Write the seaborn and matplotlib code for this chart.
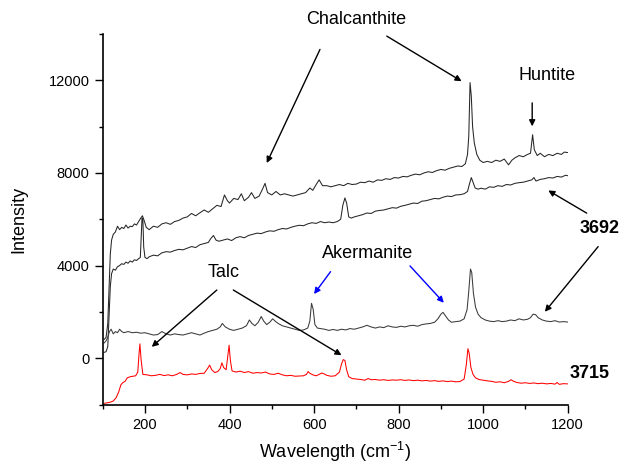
import numpy as np
import pandas as pd
import seaborn as sns
import matplotlib.pyplot as plt
from matplotlib.ticker import MultipleLocator

sns.set_style('ticks')
plt.rcParams['font.family'] = ['Liberation Sans', 'DejaVu Sans']
plt.rcParams['mathtext.default'] = 'regular'
plt.rcParams['text.color'] = 'black'
plt.rcParams['axes.labelcolor'] = 'black'

# sample 3692, upper spectrum
top_x = [103, 108, 112, 115, 118, 121, 125, 130, 135, 140, 145, 150, 155, 160, 165, 170, 175, 180, 185, 190,
         194, 198, 203, 210, 220, 230, 240, 250, 260, 270, 280, 290, 300, 310, 320, 330, 340, 350, 360, 370,
         380, 388, 395, 400, 410, 420, 428, 435, 445, 452, 460, 470, 478, 484, 490, 500, 510, 520, 530, 540,
         550, 560, 570, 580, 590, 597, 605, 612, 620, 630, 640, 650, 660, 670, 680, 690, 700, 710, 720, 730,
         740, 750, 760, 770, 780, 790, 800, 810, 820, 830, 840, 850, 860, 870, 880, 890, 900, 910, 920, 930,
         940, 950, 958, 963, 966, 969, 972, 975, 979, 985, 992, 1000, 1010, 1020, 1030, 1040, 1050, 1060, 1068, 1075,
         1085, 1095, 1105, 1112, 1117, 1121, 1128, 1135, 1145, 1155, 1165, 1175, 1185, 1192, 1200]
top_y = [800, 900, 1500, 3000, 4500, 5100, 5350, 5450, 5700, 5550, 5650, 5600, 5750, 5620, 5700, 5680, 5800, 5750, 5900, 6050,
         6150, 5950, 5650, 5550, 5700, 5650, 5800, 5850, 5780, 5900, 5950, 6050, 6100, 6250, 6150, 6280, 6400, 6300, 6450, 6600,
         6550, 7050, 6800, 6700, 6900, 6850, 7100, 6800, 6950, 7150, 6900, 7000, 7300, 7550, 7150, 7050, 7200, 7050, 7100, 7050,
         7000, 7050, 7100, 7150, 7350, 7250, 7500, 7700, 7450, 7450, 7400, 7450, 7500, 7450, 7550, 7500, 7520, 7600, 7580, 7650,
         7600, 7700, 7680, 7750, 7720, 7800, 7780, 7850, 7830, 7900, 7950, 7920, 8000, 8050, 8020, 8100, 8150, 8120, 8200, 8250,
         8300, 8280, 8400, 8800, 9600, 11900, 11300, 10000, 9300, 8800, 8550, 8450, 8500, 8450, 8550, 8500, 8600, 8350, 8550, 8650,
         8750, 8700, 8800, 8850, 9650, 9000, 8750, 8850, 8700, 8800, 8750, 8850, 8800, 8900, 8880]

# sample 3692, middle spectrum
mid_x = [103, 108, 112, 115, 118, 121, 125, 130, 135, 140, 145, 150, 155, 160, 165, 170, 175, 180, 185, 189,
         191, 193, 195, 197, 200, 205, 210, 220, 230, 240, 250, 260, 270, 280, 290, 300, 310, 320, 330, 340,
         350, 355, 362, 368, 375, 385, 395, 405, 415, 425, 435, 445, 455, 465, 475, 485, 495, 505, 515, 525,
         535, 545, 555, 565, 575, 585, 595, 605, 615, 625, 635, 645, 655, 663, 668, 673, 677, 682, 688, 695,
         705, 715, 725, 735, 745, 755, 765, 775, 785, 795, 805, 815, 825, 835, 845, 855, 865, 875, 885, 895,
         905, 915, 925, 935, 945, 955, 963, 968, 972, 976, 981, 988, 995, 1005, 1015, 1025, 1035, 1045, 1055, 1065,
         1075, 1085, 1095, 1105, 1115, 1120, 1125, 1135, 1145, 1155, 1165, 1175, 1185, 1195, 1200]
mid_y = [250, 280, 500, 1800, 3100, 3650, 3850, 3800, 3950, 4000, 4080, 4050, 4150, 4100, 4200, 4150, 4250, 4220, 4300, 4350,
         5200, 6050, 6000, 4800, 4350, 4300, 4380, 4450, 4420, 4550, 4600, 4580, 4650, 4700, 4680, 4750, 4820, 4780, 4900, 4950,
         5000, 5150, 5300, 5100, 5050, 5100, 5150, 5080, 5200, 5250, 5200, 5300, 5350, 5400, 5380, 5450, 5500, 5480, 5550, 5600,
         5580, 5650, 5700, 5740, 5720, 5800, 5850, 5820, 5900, 5850, 5880, 5850, 5900, 6000, 6600, 6920, 6700, 6100, 6050, 6100,
         6150, 6200, 6270, 6250, 6350, 6380, 6400, 6450, 6500, 6480, 6560, 6600, 6650, 6700, 6680, 6780, 6800, 6850, 6900, 6880,
         6950, 7000, 6980, 7050, 7060, 7100, 7200, 7550, 7800, 7600, 7350, 7300, 7340, 7300, 7400, 7380, 7450, 7420, 7500, 7480,
         7550, 7580, 7600, 7650, 7700, 7800, 7650, 7720, 7750, 7800, 7780, 7850, 7820, 7900, 7880]

# sample 3692, lower spectrum
low_x = [103, 108, 112, 116, 120, 125, 130, 135, 140, 145, 150, 160, 170, 180, 190, 200, 210, 220, 230, 240,
         250, 260, 270, 280, 290, 300, 310, 320, 330, 340, 350, 360, 370, 378, 383, 390, 400, 410, 420, 430,
         440, 447, 453, 460, 468, 475, 481, 488, 495, 502, 508, 515, 525, 535, 545, 555, 565, 575, 585, 590,
         594, 598, 602, 608, 615, 625, 635, 645, 655, 665, 675, 685, 695, 705, 715, 725, 735, 745, 755, 765,
         775, 785, 795, 805, 815, 825, 835, 845, 855, 865, 875, 885, 893, 900, 905, 910, 918, 925, 935, 945,
         955, 962, 966, 970, 973, 977, 982, 988, 995, 1005, 1015, 1025, 1035, 1045, 1055, 1065, 1075, 1085, 1095, 1105,
         1112, 1118, 1124, 1130, 1140, 1150, 1160, 1170, 1180, 1190, 1200]
low_y = [650, 750, 900, 1150, 1250, 1050, 1150, 1100, 1250, 1150, 1100, 1150, 1100, 1120, 1080, 1100, 1050, 1000, 1020, 1150,
         1050, 1000, 1050, 1020, 1000, 1050, 1100, 1050, 1000, 1080, 1150, 1200, 1250, 1350, 1500, 1350, 1250, 1200, 1250, 1300,
         1400, 1650, 1500, 1400, 1550, 1800, 1600, 1450, 1550, 1700, 1600, 1500, 1400, 1350, 1300, 1250, 1200, 1220, 1300, 1600,
         2370, 2100, 1450, 1300, 1280, 1250, 1200, 1240, 1200, 1250, 1220, 1280, 1250, 1300, 1350, 1420, 1350, 1300, 1350, 1320,
         1400, 1350, 1330, 1380, 1350, 1400, 1420, 1380, 1450, 1480, 1500, 1550, 1700, 1900, 1980, 1850, 1650, 1550, 1580, 1600,
         1700, 2100, 2900, 3850, 3700, 2800, 2200, 1900, 1750, 1650, 1600, 1580, 1620, 1580, 1600, 1650, 1620, 1700, 1650, 1680,
         1750, 1900, 1880, 1750, 1650, 1600, 1580, 1620, 1560, 1580, 1560]

# sample 3715
red_x = [103, 110, 118, 125, 132, 138, 143, 148, 153, 158, 165, 172, 178, 183, 186, 188, 191, 195, 205, 215,
         225, 235, 245, 255, 265, 275, 283, 290, 300, 310, 320, 330, 340, 348, 353, 358, 365, 372, 378, 382,
         386, 392, 396, 399, 402, 406, 415, 425, 435, 445, 455, 465, 475, 485, 495, 505, 515, 525, 535, 545,
         555, 565, 575, 582, 586, 590, 597, 605, 612, 618, 624, 630, 640, 650, 660, 665, 669, 673, 677, 682,
         690, 700, 710, 720, 728, 735, 745, 755, 765, 775, 785, 795, 805, 815, 825, 835, 845, 855, 865, 875,
         885, 895, 905, 915, 925, 935, 945, 955, 960, 964, 967, 971, 976, 982, 990, 1000, 1010, 1020, 1030, 1040,
         1050, 1060, 1066, 1072, 1080, 1090, 1100, 1110, 1120, 1130, 1140, 1150, 1160, 1170, 1175, 1180, 1190, 1200]
red_y = [-1950, -1930, -1900, -1850, -1700, -1450, -1150, -1050, -1000, -850, -800, -780, -760, -600, 200, 620, -100, -700, -720, -760,
         -740, -700, -750, -720, -760, -700, -620, -700, -720, -680, -700, -660, -650, -450, -300, -500, -620, -580, -450, -200,
         -400, -500, 100, 560, -100, -550, -600, -560, -620, -580, -650, -620, -640, -600, -680, -700, -650, -720, -760, -740,
         -780, -770, -760, -700, -580, -650, -720, -760, -700, -640, -680, -740, -780, -760, -600, -250, -60, -100, -500, -800,
         -880, -900, -920, -950, -880, -930, -920, -950, -930, -960, -940, -950, -930, -960, -940, -970, -950, -980, -960, -990,
         -970, -1000, -980, -1010, -990, -1020, -1010, -900, -300, 410, 200, -400, -700, -850, -920, -950, -980, -1000, -1040, -1020,
         -1060, -1000, -930, -1000, -1050, -1080, -1060, -1090, -1070, -1100, -1080, -1110, -1090, -1120, -1050, -1130, -1100, -1110]

x_ticks = [200, 400, 600, 800, 1000, 1200]
y_ticks = [0, 4000, 8000, 12000]

fig = plt.figure(figsize=(6.21, 4.63), dpi=100)
ax = fig.add_axes([102.7 / 621, (463 - 404.5) / 463, 465 / 621, 370.5 / 463])

for xs, ys, col in [(top_x, top_y, '#262626'), (mid_x, mid_y, '#262626'),
                    (low_x, low_y, '#3a3a3a'), (red_x, red_y, '#ff0000')]:
    sns.lineplot(x=xs, y=ys, ax=ax, color=col, linewidth=0.75, sort=False, estimator=None)

ax.set_xlim(100, 1200)
ax.set_ylim(-2000, 14000)
ax.set_xticks(x_ticks)
ax.set_yticks(y_ticks)
ax.xaxis.set_minor_locator(MultipleLocator(100))
ax.yaxis.set_minor_locator(MultipleLocator(2000))
ax.tick_params(which='major', direction='out', length=6, width=1, labelsize=10.5, colors='black')
ax.tick_params(which='minor', direction='out', length=3, width=1, colors='black')
sns.despine(ax=ax)
for s in ['left', 'bottom']:
    ax.spines[s].set_linewidth(1.2)
    ax.spines[s].set_color('black')

ax.set_xlabel('Wavelength (cm$^{-1}$)', fontsize=13, labelpad=6)
ax.set_ylabel('Intensity', fontsize=13, labelpad=15)

def arrow(start, end, color='black'):
    ax.annotate('', xy=end, xytext=start,
                arrowprops=dict(arrowstyle='-|>', color=color, lw=1, mutation_scale=9,
                                shrinkA=0, shrinkB=0))

ax.text(699, 14632, 'Chalcanthite', fontsize=13, ha='center', va='center', clip_on=False)
arrow((614, 13333), (488, 8428))
arrow((772, 13909), (949, 11961))

ax.text(1151, 12208, 'Huntite', fontsize=13, ha='center', va='center')
arrow((1116, 11026), (1116, 10013))

ax.text(1276, 5600, '3692', fontsize=13, fontweight='bold', ha='center', va='center', clip_on=False)
arrow((1296, 6480), (1205, 8428))
arrow((1245, 6264), (1154, 7243))
arrow((1272, 4818), (1146, 2004))

ax.text(726, 4532, 'Akermanite', fontsize=13, ha='center', va='center')
arrow((639, 3736), (600, 2771), 'blue')
arrow((827, 3983), (907, 2394), 'blue')

ax.text(385, 3693, 'Talc', fontsize=13, ha='center', va='center')
arrow((370, 2944), (216, 489))
arrow((409, 2944), (665, 130))

ax.text(1253, -662, '3715', fontsize=13, fontweight='bold', ha='center', va='center', clip_on=False)

fig.savefig('out.png', dpi=100)
